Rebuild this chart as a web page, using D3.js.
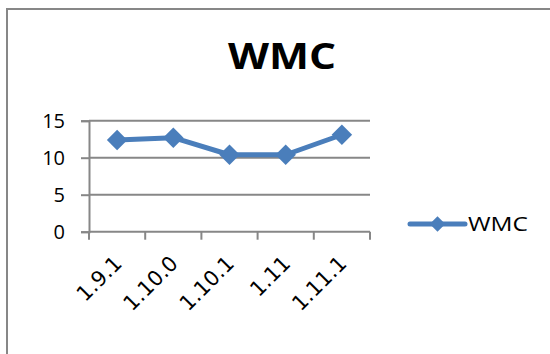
<!DOCTYPE html>
<html>
<head>
<meta charset="utf-8">
<script src="https://cdn.jsdelivr.net/npm/d3@7"></script>
<style>
  html, body { margin: 0; padding: 0; background: #fff; }
  svg { display: block; }
</style>
</head>
<body>
<svg id="chart" width="550" height="354"></svg>
<script>
// Release versions and the WMC metric measured for each
const categories = ["1.9.1", "1.10.0", "1.10.1", "1.11", "1.11.1"];
const wmcValues = [12.4, 12.7, 10.4, 10.4, 13.1];
const yTicks = [0, 5, 10, 15];
const seriesName = "WMC";
const chartTitle = "WMC";

const svg = d3.select("#chart");
const W = 550, H = 354;
const plot = { left: 89, right: 370, top: 120.7, bottom: 231.7 };
const gray = "#878787";
const blue = "#4a7ebb";
const uiFont = "'Open Sans', 'Noto Sans', sans-serif";

svg.append("rect").attr("width", W).attr("height", H).attr("fill", "#fff");

// chart area frame (continues past the right and bottom edges)
svg.append("rect")
  .attr("x", 7).attr("y", 9).attr("width", 700).attr("height", 500)
  .attr("fill", "none").attr("stroke", gray).attr("stroke-width", 2);

// title
svg.append("text")
  .attr("x", 282).attr("y", 68.5)
  .attr("text-anchor", "middle")
  .attr("font-family", uiFont)
  .attr("font-weight", "bold")
  .attr("font-size", 35)
  .attr("textLength", 108)
  .attr("lengthAdjust", "spacingAndGlyphs")
  .attr("fill", "#000")
  .text(chartTitle);

const x = d3.scaleBand().domain(categories).range([plot.left, plot.right]).padding(0);
const y = d3.scaleLinear().domain([0, 15]).range([plot.bottom, plot.top]);

// y axis
const yAxis = d3.axisLeft(y).tickValues(yTicks).tickSize(8).tickPadding(16);
const gy = svg.append("g").attr("transform", `translate(${plot.left},0)`).call(yAxis);
gy.select(".domain").attr("stroke", gray).attr("stroke-width", 2);
gy.selectAll(".tick line").attr("stroke", gray).attr("stroke-width", 2);
gy.selectAll(".tick text")
  .attr("font-family", uiFont).attr("font-size", 20).attr("fill", "#000")
  .attr("dy", "0.36em");

// horizontal gridlines
svg.append("g").selectAll("line").data(yTicks.filter(d => d > 0)).join("line")
  .attr("x1", plot.left).attr("x2", plot.right)
  .attr("y1", d => y(d)).attr("y2", d => y(d))
  .attr("stroke", gray).attr("stroke-width", 2);

// x axis with ticks on category boundaries
const boundaries = categories.map(c => x(c)).concat([plot.right]);
svg.append("line")
  .attr("x1", plot.left).attr("x2", plot.right)
  .attr("y1", plot.bottom).attr("y2", plot.bottom)
  .attr("stroke", gray).attr("stroke-width", 2);
svg.append("g").selectAll("line").data(boundaries).join("line")
  .attr("x1", d => d).attr("x2", d => d)
  .attr("y1", plot.bottom).attr("y2", plot.bottom + 8)
  .attr("stroke", gray).attr("stroke-width", 2);

// rotated category labels
svg.append("g").selectAll("text").data(categories).join("text")
  .attr("transform", d => `translate(${x(d) + x.bandwidth() / 2 + 6},${plot.bottom + 33}) rotate(-45)`)
  .attr("text-anchor", "end")
  .attr("font-family", "'DejaVu Sans', sans-serif")
  .attr("font-size", 21)
  .attr("fill", "#000")
  .text(d => d);

// series line
const cx = d => x(d) + x.bandwidth() / 2;
const line = d3.line().x((d, i) => cx(categories[i])).y(d => y(d));
svg.append("path").datum(wmcValues)
  .attr("d", line)
  .attr("fill", "none").attr("stroke", blue).attr("stroke-width", 5)
  .attr("stroke-linejoin", "round");

// diamond markers
svg.append("g").selectAll("path").data(wmcValues).join("path")
  .attr("transform", (d, i) => `translate(${cx(categories[i])},${y(d)}) rotate(45)`)
  .attr("d", d3.symbol().type(d3.symbolSquare).size(210))
  .attr("fill", blue);

// legend
const lg = svg.append("g");
lg.append("line").attr("x1", 410).attr("x2", 465).attr("y1", 224).attr("y2", 224)
  .attr("stroke", blue).attr("stroke-width", 5).attr("stroke-linecap", "round");
lg.append("path")
  .attr("transform", "translate(437.5,224) rotate(45)")
  .attr("d", d3.symbol().type(d3.symbolSquare).size(120))
  .attr("fill", blue);
lg.append("text").attr("x", 468).attr("y", 231)
  .attr("font-family", uiFont).attr("font-size", 20).attr("fill", "#000")
  .attr("textLength", 60).attr("lengthAdjust", "spacingAndGlyphs")
  .text(seriesName);
</script>
</body>
</html>
